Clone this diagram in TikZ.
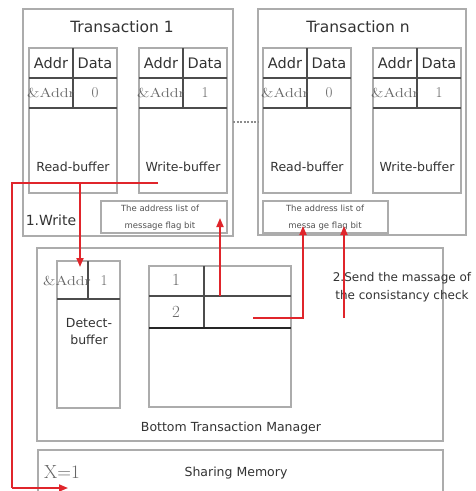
\documentclass[tikz,border=0pt]{standalone}
\usepackage{fontspec}
\setsansfont{DejaVu Sans}
\usepackage{graphicx}
\usetikzlibrary{arrows.meta}
\definecolor{txt}{HTML}{333333}
\definecolor{redc}{HTML}{E0252B}
\tikzset{
  box/.style={draw=gray!65, line width=1.2pt},
  tab/.style={draw=black!70, line width=1.2pt},
  title/.style={font=\sffamily\fontsize{15.5}{16}\selectfont, text=txt, inner sep=0pt},
  hdr/.style={font=\sffamily\fontsize{14.5}{15}\selectfont, text=txt, inner sep=0pt},
  lbl/.style={font=\sffamily\fontsize{12.5}{17}\selectfont, text=txt, inner sep=0pt},
  small/.style={font=\sffamily\fontsize{8.5}{9}\selectfont, text=txt!85, inner sep=0pt},
  ser/.style={font=\fontsize{13}{14}\selectfont, text=black!60, inner sep=0pt},
  num/.style={font=\fontsize{15}{16}\selectfont, text=black!60, inner sep=0pt},
  redline/.style={draw=redc, line width=1.7pt},
  redarrow/.style={redline, -{Triangle[length=9pt,width=7pt]}},
}
\begin{document}
\begin{tikzpicture}[x=1pt,y=-1pt]
\useasboundingbox[fill=white] (0,0) rectangle (475,491);

% Transaction boxes
\draw[box] (23,9) rectangle (233,236);
\node[title] (t1title) at (122,27) {Transaction 1};
\draw[box] (258,9) rectangle (466,235);
\node[title] (tntitle) at (358,27) {Transaction n};

% buffers
\foreach \x/\v/\l in {29/0/Read-buffer, 139/1/Write-buffer, 263/0/Read-buffer, 373/1/Write-buffer}{
  \draw[box] (\x,48) rectangle ({\x+88},193);
  \draw[tab] (\x,78) -- ({\x+88},78) (\x,108) -- ({\x+88},108) ({\x+44},48) -- ({\x+44},108);
  \node[hdr] (ha\x) at ({\x+22},63) {Addr};
  \node[hdr] (hd\x) at ({\x+66},63) {Data};
  \node[ser] (sa\x) at ({\x+22},93) {\scalebox{1.25}[1]{\&Addr}};
  \node[num] (sv\x) at ({\x+66},93) {\v};
  \node[lbl] (bl\x) at ({\x+44},167) {\l};
}

% address lists
\draw[box] (101,201) rectangle (227,233);
\node[small] (al1a) at (160,208) {The address list of};
\node[small] (al1b) at (160,226) {message flag bit};
\draw[box] (263,201) rectangle (388,233);
\node[small] (alna) at (325,208) {The address list of};
\node[small] (alnb) at (325,226) {messa ge flag bit};

% dotted link between transactions
\coordinate (dotA) at (233,122);
\coordinate (dotB) at (258,122);
\draw[draw=gray!90, line width=1.2pt, dash pattern=on 2pt off 1.5pt] (dotA) -- (dotB);

% Bottom Transaction Manager
\draw[box] (37,248) rectangle (443,441);
\node[lbl] (btm) at (231,428) {Bottom Transaction Manager};

% Detect buffer
\draw[box] (57,261) rectangle (120,408);
\draw[tab] (57,299) -- (120,299) (88,261) -- (88,299);
\node[ser] (dba) at (67,281) {\scalebox{1.25}[1]{\&Addr}};
\node[num] (dbv) at (104,281) {1};
\node[lbl, align=center] (dbl) at (89,332) {Detect-\\buffer};

% table
\draw[box] (149,266) rectangle (291,407);
\draw[tab] (149,296) -- (291,296) (204,266) -- (204,328);
\draw[draw=black!85, line width=1.2pt] (149,328) -- (291,328);
\node[num, font=\fontsize{17}{18}\selectfont] (r1) at (176,280) {1};
\node[num, font=\fontsize{17}{18}\selectfont] (r2) at (176,312) {2};

% Sharing memory
\draw[box] (38,493) -- (38,450) -- (443,450) -- (443,493);
\node[num, font=\fontsize{19}{20}\selectfont] (xeq) at (62,472) {X=1};
\node[lbl] (sm) at (236,473) {Sharing Memory};

% labels
\node[hdr, font=\sffamily\fontsize{14}{15}\selectfont] (w1) at (51,220) {1.Write};
\node[lbl, font=\sffamily\fontsize{12}{18}\selectfont, align=center] (send) at (402,287) {2.Send the massage of\\the consistancy check};

% red connectors
\coordinate (wA) at (158,183);
\coordinate (wB) at (80,183);
\coordinate (wC) at (12,183);
\coordinate (wD) at (12,488);
\coordinate (wE) at (68,488);
\coordinate (dtop) at (80,267);
\draw[redline] (wA) -- (wC) -- (wD);
\draw[redarrow] (wD) -- (wE);
\draw[redarrow] (wB) -- (dtop);

\coordinate (c1s) at (220,296);
\coordinate (c1e) at (220,218);
\draw[redarrow] (c1s) -- (c1e);

\coordinate (c2s) at (253,318);
\coordinate (c2m) at (303,318);
\coordinate (c2e) at (303,226);
\draw[redarrow] (c2s) -- (c2m) -- (c2e);

\coordinate (c3s) at (344,318);
\coordinate (c3e) at (344,226);
\draw[redarrow] (c3s) -- (c3e);
\end{tikzpicture}
\end{document}
